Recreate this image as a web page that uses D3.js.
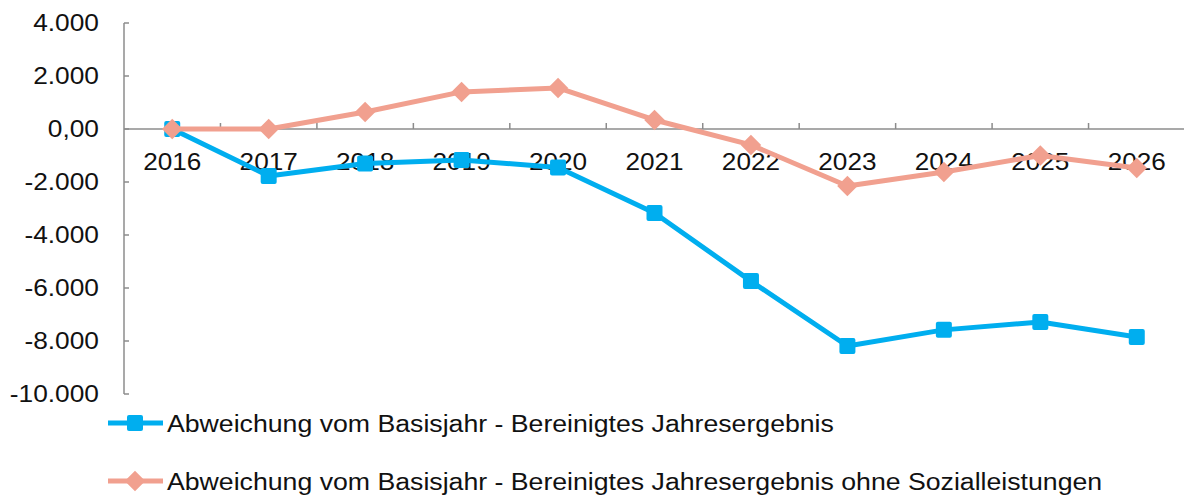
<!DOCTYPE html>
<html>
<head>
<meta charset="utf-8">
<script src="https://cdn.jsdelivr.net/npm/d3@7"></script>
<style>
  body { margin: 0; background: #fff; }
  svg { display: block; font-family: "Liberation Sans", Arial, sans-serif; }
</style>
</head>
<body>
<svg id="chart" width="1184" height="496"></svg>
<script>
// Data
const years = ['2016', '2017', '2018', '2019', '2020', '2021', '2022', '2023', '2024', '2025', '2026'];
const jahresergebnis = [0, -1770, -1300, -1170, -1450, -3170, -5740, -8190, -7580, -7280, -7850];
const ohneSozialleistungen = [0, 0, 640, 1400, 1550, 340, -600, -2150, -1620, -1000, -1470];
const yTicks = [4000, 2000, 0, -2000, -4000, -6000, -8000, -10000];
const seriesNames = [
  'Abweichung vom Basisjahr - Bereinigtes Jahresergebnis',
  'Abweichung vom Basisjahr - Bereinigtes Jahresergebnis ohne Sozialleistungen'
];

const blue = '#00AEEF';
const salmon = '#F1A08F';
const axisGrey = '#8c8c8c';
const stretch = 1.12; // the original text is a bit wider than Arial

const svg = d3.select('#chart');

// Scales
const x = d3.scaleBand().domain(years).range([124, 1185]);
const y = d3.scaleLinear().domain([-10000, 4000]).range([394, 23]);
const cx = (d, i) => x(years[i]) + x.bandwidth() / 2;

// german number format, hyphen as minus
const fmt = v => v === 0 ? '0,00' : d3.format(',')(v).replace(/,/g, '.').replace('\u2212', '-');

// Y axis
const yAxis = svg.append('g').attr('transform', 'translate(124,0)');
yAxis.append('line')
  .attr('y1', y(4000)).attr('y2', y(-10000))
  .attr('stroke', axisGrey).attr('stroke-width', 1.5);
yAxis.selectAll('.ytick').data(yTicks).enter().append('line')
  .attr('x1', 0).attr('x2', 5)
  .attr('y1', d => y(d)).attr('y2', d => y(d))
  .attr('stroke', axisGrey).attr('stroke-width', 1.5);
yAxis.selectAll('.ylabel').data(yTicks).enter().append('text')
  .attr('transform', d => `translate(-25,${y(d)}) scale(${stretch},1)`)
  .attr('dy', '0.35em')
  .attr('text-anchor', 'end')
  .attr('font-size', 23.5)
  .attr('fill', '#111')
  .text(fmt);

// X axis at zero
const xAxis = svg.append('g').attr('transform', `translate(0,${y(0)})`);
xAxis.append('line')
  .attr('x1', 124).attr('x2', 1185)
  .attr('stroke', axisGrey).attr('stroke-width', 1.5);
xAxis.selectAll('.xtick').data(years.slice(1)).enter().append('line')
  .attr('x1', d => x(d)).attr('x2', d => x(d))
  .attr('y1', 0).attr('y2', -6)
  .attr('stroke', axisGrey).attr('stroke-width', 1.5);

// Lines
const line = d3.line().x(cx).y(d => y(d));

svg.append('path').datum(jahresergebnis)
  .attr('d', line).attr('fill', 'none')
  .attr('stroke', blue).attr('stroke-width', 5).attr('stroke-linejoin', 'round');

svg.selectAll('.sq').data(jahresergebnis).enter().append('rect')
  .attr('x', (d, i) => cx(d, i) - 8)
  .attr('y', d => y(d) - 8)
  .attr('width', 16).attr('height', 16).attr('rx', 2)
  .attr('fill', blue);

// X labels sit between the two series like the original
xAxis.selectAll('.xlabel').data(years).enter().append('text')
  .attr('transform', d => `translate(${x(d) + x.bandwidth() / 2},41) scale(1.09,1)`)
  .attr('text-anchor', 'middle')
  .attr('font-size', 24)
  .attr('fill', '#111')
  .text(d => d);

svg.append('path').datum(ohneSozialleistungen)
  .attr('d', line).attr('fill', 'none')
  .attr('stroke', salmon).attr('stroke-width', 5).attr('stroke-linejoin', 'round');

const diamond = d3.symbol().type(d3.symbolSquare).size(210);
svg.selectAll('.dia').data(ohneSozialleistungen).enter().append('path')
  .attr('transform', (d, i) => `translate(${cx(d, i)},${y(d)}) rotate(45)`)
  .attr('d', diamond)
  .attr('fill', salmon);

// Legend
const legend = svg.append('g');
const legendItems = [
  { name: seriesNames[0], color: blue, shape: 'square', yPos: 423 },
  { name: seriesNames[1], color: salmon, shape: 'diamond', yPos: 481 }
];
legendItems.forEach(item => {
  const g = legend.append('g').attr('transform', `translate(0,${item.yPos})`);
  g.append('line').attr('x1', 108).attr('x2', 163)
    .attr('stroke', item.color).attr('stroke-width', 5);
  if (item.shape === 'square') {
    g.append('rect').attr('x', 127).attr('y', -8).attr('width', 16).attr('height', 16)
      .attr('rx', 2).attr('fill', item.color);
  } else {
    g.append('path').attr('transform', 'translate(135,0) rotate(45)')
      .attr('d', diamond).attr('fill', item.color);
  }
  g.append('text')
    .attr('transform', 'translate(167,0) scale(1.16,1)')
    .attr('dy', '0.38em')
    .attr('font-size', 23)
    .attr('fill', '#111')
    .text(item.name);
});
</script>
</body>
</html>
